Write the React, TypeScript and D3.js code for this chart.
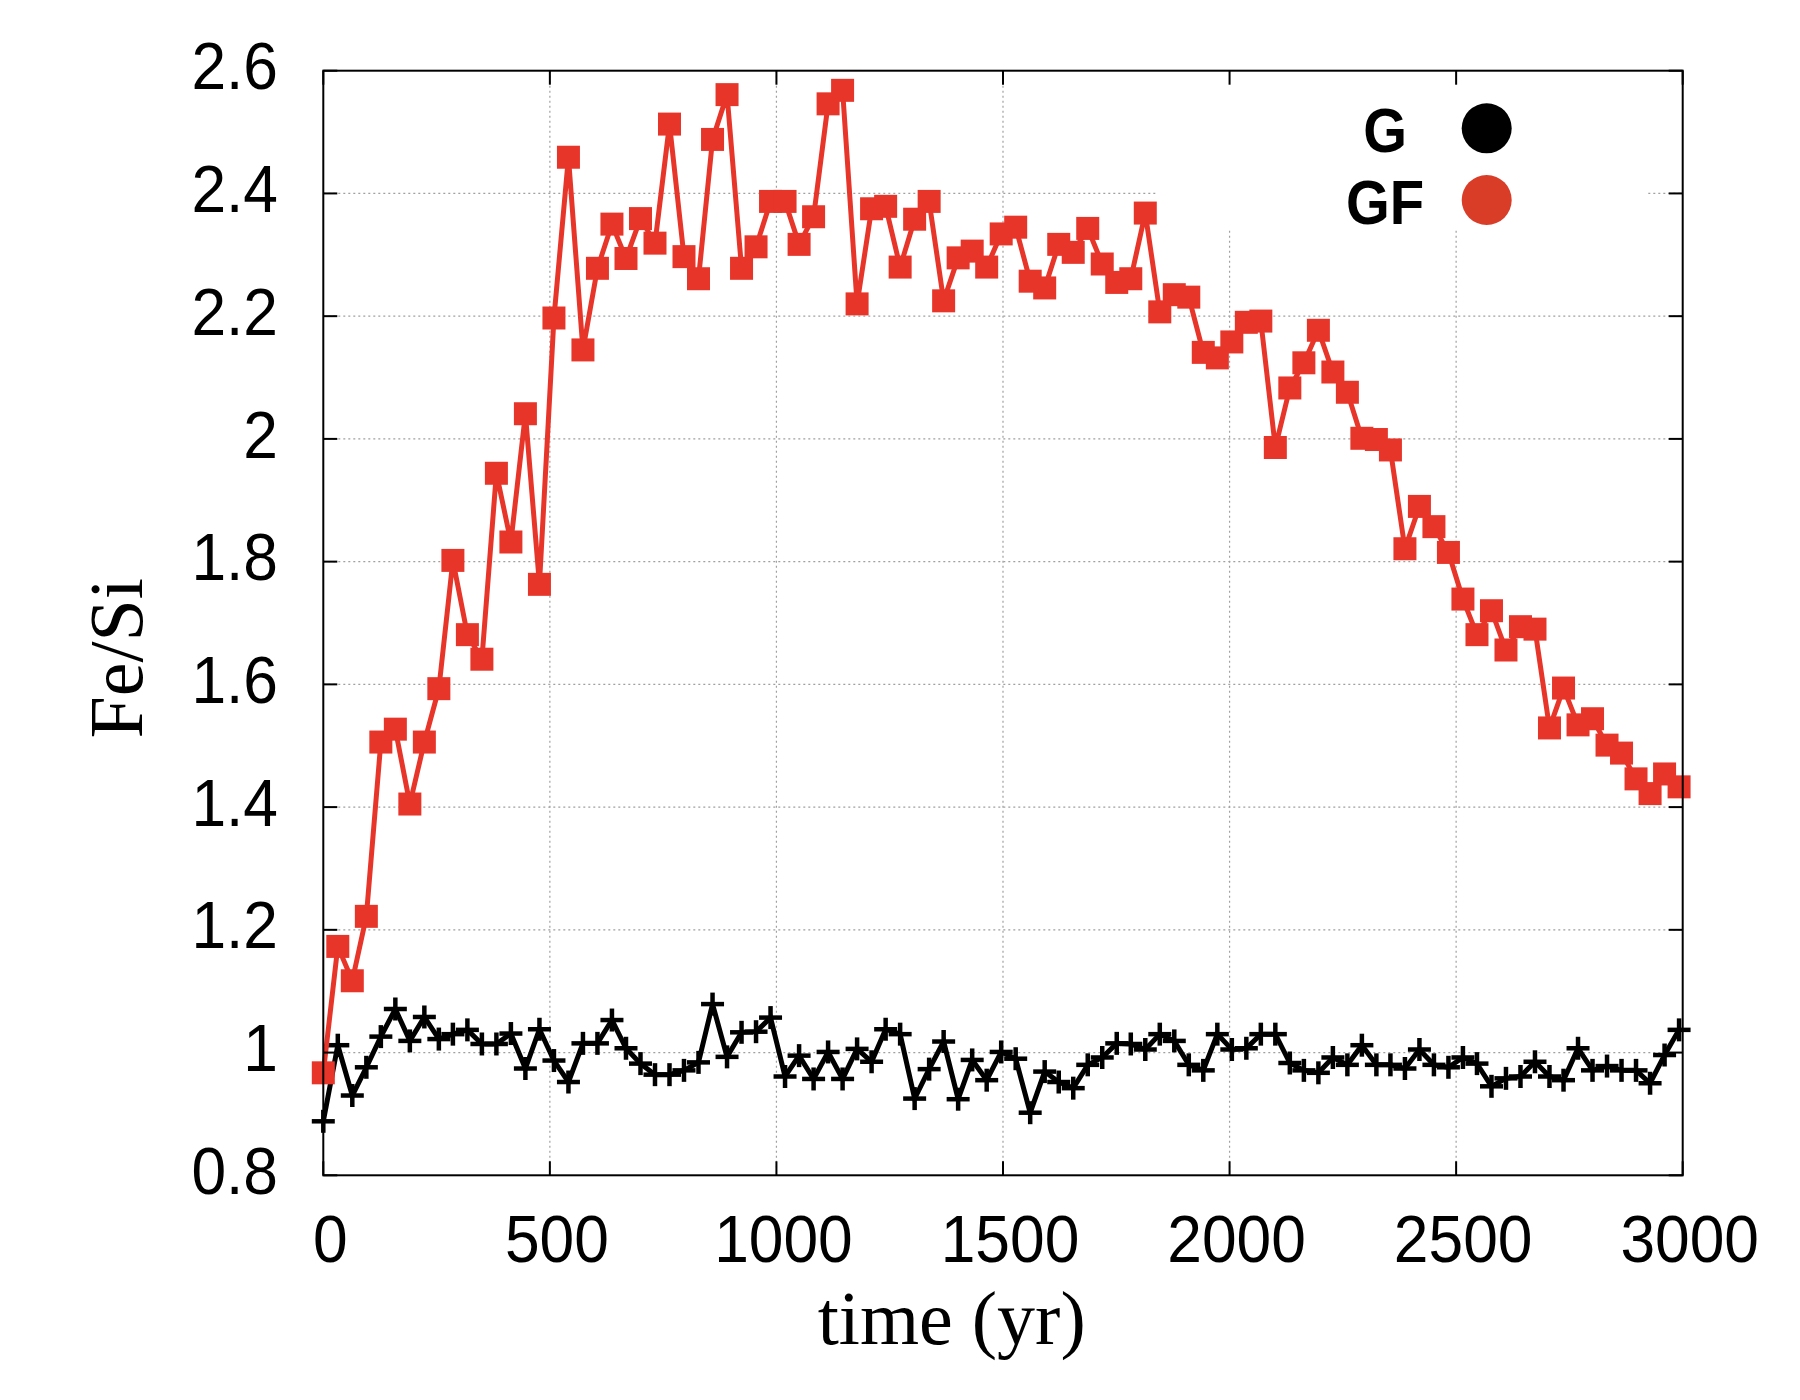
import React from 'react';
import * as d3 from 'd3';

// sampling times (yr)
const times = [
  0, 32, 64, 95, 127, 159, 191, 223, 255, 286,
  318, 350, 382, 414, 446, 477, 509, 541, 573, 605,
  637, 668, 700, 732, 764, 796, 828, 859, 891, 923,
  955, 987, 1019, 1050, 1082, 1114, 1146, 1178, 1210, 1241,
  1273, 1305, 1337, 1369, 1401, 1432, 1464, 1496, 1528, 1560,
  1592, 1623, 1655, 1687, 1719, 1751, 1782, 1814, 1846, 1878,
  1910, 1942, 1973, 2005, 2037, 2069, 2101, 2133, 2164, 2196,
  2228, 2260, 2292, 2324, 2355, 2387, 2419, 2451, 2483, 2515,
  2546, 2578, 2610, 2642, 2674, 2706, 2737, 2769, 2801, 2833,
  2865, 2897, 2928, 2960, 2992,
];

// Fe/Si, model G
const gValues = [
  0.888, 1.012, 0.930, 0.976, 1.026, 1.071, 1.019, 1.058, 1.022, 1.030,
  1.037, 1.014, 1.014, 1.031, 0.974, 1.038, 0.987, 0.952, 1.015, 1.015,
  1.053, 1.007, 0.982, 0.964, 0.964, 0.971, 0.984, 1.079, 0.993, 1.033,
  1.034, 1.057, 0.961, 0.995, 0.957, 1.001, 0.957, 1.006, 0.985, 1.038,
  1.030, 0.925, 0.973, 1.018, 0.924, 0.988, 0.955, 1.001, 0.990, 0.902,
  0.969, 0.952, 0.942, 0.980, 0.992, 1.015, 1.014, 1.005, 1.030, 1.019,
  0.980, 0.971, 1.030, 1.005, 1.007, 1.030, 1.030, 0.983, 0.971, 0.967,
  0.992, 0.980, 1.012, 0.980, 0.980, 0.974, 1.005, 0.980, 0.976, 0.992,
  0.982, 0.945, 0.958, 0.961, 0.985, 0.961, 0.955, 1.007, 0.971, 0.978,
  0.971, 0.971, 0.950, 0.996, 1.037,
];

// Fe/Si, model GF
const gfValues = [
  0.967, 1.173, 1.117, 1.222, 1.506, 1.527, 1.405, 1.506, 1.593, 1.802,
  1.681, 1.641, 1.944, 1.832, 2.041, 1.763, 2.197, 2.459, 2.145, 2.278,
  2.350, 2.294, 2.359, 2.319, 2.513, 2.297, 2.261, 2.488, 2.561, 2.278,
  2.313, 2.387, 2.387, 2.317, 2.362, 2.546, 2.568, 2.220, 2.375, 2.379,
  2.280, 2.358, 2.387, 2.225, 2.295, 2.306, 2.280, 2.334, 2.345, 2.257,
  2.246, 2.317, 2.304, 2.343, 2.285, 2.255, 2.261, 2.368, 2.207, 2.235,
  2.231, 2.141, 2.132, 2.158, 2.190, 2.192, 1.986, 2.083, 2.124, 2.177,
  2.109, 2.076, 2.001, 1.999, 1.982, 1.821, 1.890, 1.857, 1.815, 1.739,
  1.681, 1.720, 1.656, 1.694, 1.690, 1.529, 1.594, 1.534, 1.544, 1.501,
  1.488, 1.446, 1.422, 1.454, 1.433,
];

const xTicks = [0, 500, 1000, 1500, 2000, 2500, 3000];
const yTicks = [0.8, 1.0, 1.2, 1.4, 1.6, 1.8, 2.0, 2.2, 2.4, 2.6];
const yTickLabels = ['0.8', '1', '1.2', '1.4', '1.6', '1.8', '2', '2.2', '2.4', '2.6'];

const legendItems = [
  { label: 'G', color: '#000000' },
  { label: 'GF', color: '#d93d27' },
];

const RED = '#e8352a';
const SANS = '"Liberation Sans", Arial, sans-serif';
const SERIF = '"Liberation Serif", "Times New Roman", serif';

const W = 1800;
const H = 1400;
const left = 323.3, right = 1682.7, top = 70.7, bottom = 1175.3;
const tick = 14;

export default function App() {
  const x = d3.scaleLinear().domain([0, 3000]).range([left, right]);
  const y = d3.scaleLinear().domain([0.8, 2.6]).range([bottom, top]);

  const line = d3.line<number>()
    .x((_d, i) => x(times[i]))
    .y(d => y(d));

  const sq = 23;
  const plus = 11.5;

  return (
    <div style={{ position: 'absolute', left: 0, top: 0 }}>
      <svg width={W} height={H} style={{ display: 'block', background: '#fff' }}>
        {/* grid */}
        <g stroke="#a0a0a0" strokeWidth={1.2} strokeDasharray="2,3">
          {xTicks.slice(1, -1).map(t => (
            <line key={'gx' + t} x1={x(t)} x2={x(t)} y1={top} y2={bottom} />
          ))}
          {yTicks.slice(1, -1).map(t => (
            <line key={'gy' + t} x1={left} x2={right} y1={y(t)} y2={y(t)} />
          ))}
        </g>

        {/* key box (opaque, hides grid) */}
        <rect x={1157} y={top + 1} width={490} height={230 - top - 1} fill="#fff" />

        {/* G series */}
        <path d={line(gValues) || ''} fill="none" stroke="#000" strokeWidth={5} strokeLinejoin="miter" />
        <g stroke="#000" strokeWidth={4.5}>
          {gValues.map((v, i) => (
            <g key={'g' + i}>
              <line x1={x(times[i]) - plus} x2={x(times[i]) + plus} y1={y(v)} y2={y(v)} />
              <line x1={x(times[i])} x2={x(times[i])} y1={y(v) - plus} y2={y(v) + plus} />
            </g>
          ))}
        </g>

        {/* GF series */}
        <path d={line(gfValues) || ''} fill="none" stroke={RED} strokeWidth={5} strokeLinejoin="miter" />
        <g fill={RED}>
          {gfValues.map((v, i) => (
            <rect key={'gf' + i} x={x(times[i]) - sq / 2} y={y(v) - sq / 2} width={sq} height={sq} />
          ))}
        </g>

        {/* border and ticks */}
        <rect x={left} y={top} width={right - left} height={bottom - top} fill="none" stroke="#000" strokeWidth={2} />
        <g stroke="#000" strokeWidth={2}>
          {xTicks.map(t => (
            <g key={'tx' + t}>
              <line x1={x(t)} x2={x(t)} y1={bottom} y2={bottom - tick} />
              <line x1={x(t)} x2={x(t)} y1={top} y2={top + tick} />
            </g>
          ))}
          {yTicks.map(t => (
            <g key={'ty' + t}>
              <line x1={left} x2={left + tick} y1={y(t)} y2={y(t)} />
              <line x1={right} x2={right - tick} y1={y(t)} y2={y(t)} />
            </g>
          ))}
        </g>

        {/* tick labels */}
        <g fontFamily={SANS} fontSize={67} fill="#000">
          {yTicks.map((t, i) => (
            <g key={'ly' + t} transform={`translate(278,${y(t) + 18.6}) scale(0.93,1)`}>
              <text textAnchor="end">{yTickLabels[i]}</text>
            </g>
          ))}
          {xTicks.map(t => (
            <g key={'lx' + t} transform={`translate(${x(t) + 7},1262) scale(0.93,1)`}>
              <text textAnchor="middle">{t}</text>
            </g>
          ))}
        </g>

        {/* axis titles */}
        <text x={951.7} y={1344} textAnchor="middle" fontFamily={SERIF} fontSize={76}>time (yr)</text>
        <text transform="translate(141.7,658.3) rotate(-90)" textAnchor="middle" fontFamily={SERIF} fontSize={76}>Fe/Si</text>

        {/* legend */}
        {legendItems.map((d, i) => (
          <g key={d.label}>
            <g transform={`translate(1385,${151.7 + i * 72.3}) scale(0.9,1)`}>
              <text textAnchor="middle" fontFamily={SANS} fontWeight="bold" fontSize={62.5}>{d.label}</text>
            </g>
            <circle cx={1486.7} cy={128.3 + i * 71.7} r={25} fill={d.color} />
          </g>
        ))}
      </svg>
    </div>
  );
}
